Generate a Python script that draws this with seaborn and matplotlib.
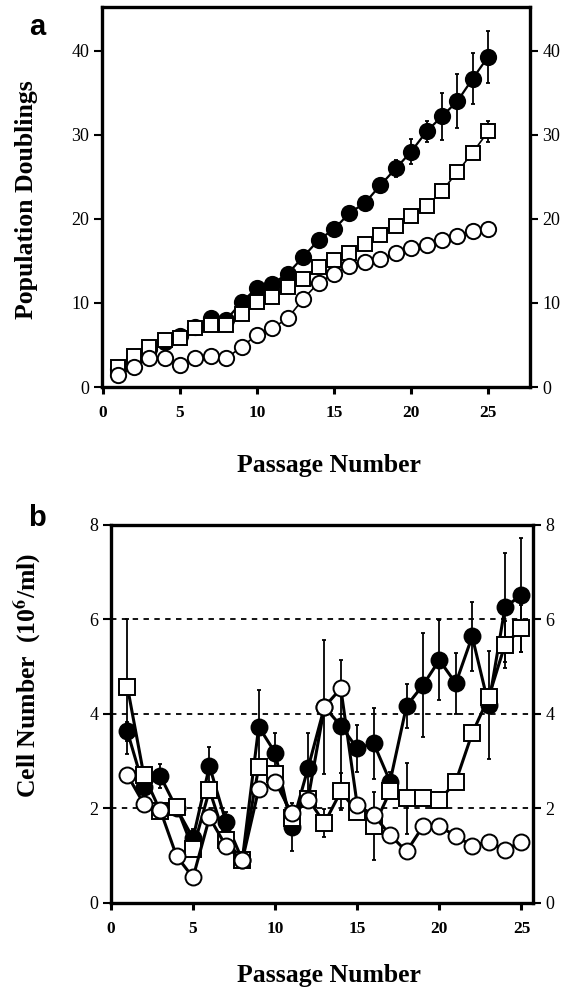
import matplotlib
matplotlib.use("Agg")
import matplotlib.pyplot as plt
import seaborn as sns
import numpy as np

passage = list(range(1, 26))

# panel a: population doublings
pd_filled = [2.1, 3.3, 4.5, 5.3, 6.1, 7.1, 8.2, 8.0, 10.1, 11.8, 12.3, 13.5, 15.5, 17.5,
             18.8, 20.7, 21.9, 24.0, 26.0, 28.0, 30.4, 32.2, 34.0, 36.7, 39.3]
pd_filled_err = [0, 0, 0, 0, 0, 0, 0, 0, 0, 0, 0, 0, 0, 0,
                 0, 0.3, 0.3, 0.5, 1.0, 1.5, 1.3, 2.8, 3.2, 3.0, 3.1]
pd_square = [2.4, 3.7, 4.8, 5.6, 5.8, 7.0, 7.4, 7.4, 8.7, 10.1, 10.7, 11.9, 12.8, 14.3,
             15.1, 15.9, 17.0, 18.1, 19.2, 20.3, 21.5, 23.3, 25.6, 27.9, 30.4]
pd_square_err = [0, 0, 0, 0, 0, 0, 0, 0, 0, 0, 0, 0, 0, 0,
                 0, 0, 0, 0, 0, 0.4, 0.4, 0.5, 0.6, 0.8, 1.3]
pd_open = [1.4, 2.4, 3.4, 3.5, 2.6, 3.4, 3.7, 3.4, 4.8, 6.2, 7.0, 8.2, 10.5, 12.4,
           13.5, 14.4, 14.9, 15.2, 15.9, 16.5, 16.9, 17.5, 18.0, 18.6, 18.8]

# panel b: cell number (10^6/ml)
cn_filled = [3.63, 2.45, 2.69, 2.0, 1.37, 2.90, 1.72, 0.91, 3.73, 3.18, 1.61, 2.85, 4.15,
             3.75, 3.27, 3.38, 2.57, 4.17, 4.61, 5.14, 4.65, 5.64, 4.19, 6.26, 6.52]
cn_filled_err = [0.2, 0.1, 0.25, 0.1, 0.2, 0.4, 0.2, 0.1, 0.77, 0.42, 0.5, 0.75, 1.42,
                 1.4, 0.5, 0.75, 0.2, 0.47, 1.1, 0.85, 0.65, 0.73, 1.15, 1.15, 1.2]
cn_square = [4.58, 2.71, 1.95, 2.04, 1.14, 2.39, 1.33, 0.91, 2.88, 2.74, 1.8, 2.21, 1.69,
             2.36, 1.93, 1.62, 2.36, 2.22, 2.23, 2.17, 2.57, 3.59, 4.35, 5.47, 5.81]
cn_square_err = [1.42, 0.1, 0.1, 0.12, 0.1, 0.1, 0.1, 0.05, 0.1, 0.1, 0.1, 0.1, 0.3,
                 0.4, 0.1, 0.72, 0.1, 0.75, 0.1, 0.1, 0.1, 0.1, 0.1, 0.5, 0.5]
cn_open = [2.71, 2.10, 1.97, 0.99, 0.54, 1.81, 1.21, 0.90, 2.41, 2.57, 1.90, 2.19, 4.15,
           4.54, 2.07, 1.86, 1.44, 1.09, 1.62, 1.62, 1.42, 1.21, 1.30, 1.12, 1.30]

sns.set_style("ticks")
plt.rcParams['font.family'] = ['Liberation Serif', 'DejaVu Serif']
plt.rcParams['mathtext.fontset'] = 'stix'
for k in ['text.color', 'axes.labelcolor', 'xtick.color', 'ytick.color', 'axes.edgecolor']:
    plt.rcParams[k] = 'black'

fig = plt.figure(figsize=(5.66, 9.96), dpi=100)
ax_a = fig.add_axes([0.180, 0.6114, 0.756, 0.3815])
ax_b = fig.add_axes([0.196, 0.0934, 0.7456, 0.3795])


def draw(ax, vals, err, marker, face, ms, lw):
    if err is not None:
        ax.errorbar(passage, vals, yerr=err, fmt='none', ecolor='black',
                    elinewidth=1.3, capsize=1.5, capthick=1.3, zorder=2)
    sns.lineplot(x=passage, y=vals, ax=ax, color='black', linewidth=lw,
                 marker=marker, markersize=ms, markerfacecolor=face,
                 markeredgecolor='black', markeredgewidth=1.4, zorder=3)


draw(ax_a, pd_filled, pd_filled_err, 'o', 'black', 11, 1.6)
draw(ax_a, pd_square, pd_square_err, 's', 'white', 10.5, 1.2)
draw(ax_a, pd_open, None, 'o', 'white', 11, 1.2)

for y in [2, 4, 6]:
    ax_b.axhline(y, color='black', linewidth=1.3, linestyle=(0, (3, 3)), zorder=1)
draw(ax_b, cn_filled, cn_filled_err, 'o', 'black', 11.5, 2.2)
draw(ax_b, cn_square, cn_square_err, 's', 'white', 11, 2.2)
draw(ax_b, cn_open, None, 'o', 'white', 11.5, 2.2)

ax_a.set_xlim(-0.07, 27.7)
ax_a.set_ylim(0, 45.2)
ax_a.set_yticks([0, 10, 20, 30, 40])
ax_b.set_xlim(0, 25.7)
ax_b.set_ylim(0, 8)
ax_b.set_yticks([0, 2, 4, 6, 8])

for ax in (ax_a, ax_b):
    ax.set_xticks([0, 5, 10, 15, 20, 25])
    ax.set_xlabel('')
    ax.set_ylabel('')
    for s in ax.spines.values():
        s.set_visible(True)
        s.set_linewidth(2.4)
        s.set_color('black')
    ax.tick_params(axis='y', which='both', direction='out', left=True, right=True,
                   labelleft=True, labelright=True, length=6, width=1.5,
                   labelsize=13, pad=3, colors='black')
    ax.tick_params(axis='x', direction='out', length=5, width=2.2, labelsize=12.5, pad=8,
                   colors='black')
    for lab in ax.get_xticklabels():
        lab.set_fontweight('bold')

fig.text(37 / 566, 1 - 27 / 996, 'a', family='Liberation Sans', fontweight='bold',
         fontsize=21, ha='center', va='center')
fig.text(37 / 566, 1 - 518 / 996, 'b', family='Liberation Sans', fontweight='bold',
         fontsize=21, ha='center', va='center')
fig.text(27 / 566, 1 - 200 / 996, 'Population Doublings', rotation=90, fontweight='bold',
         fontsize=18.5, ha='center', va='center')
fig.text(27 / 566, 1 - 675 / 996, r'Cell Number  (10$^{\mathbf{6}}$/ml)', rotation=90,
         fontweight='bold', fontsize=18.5, ha='center', va='center')
fig.text(329 / 566, 1 - 465 / 996, 'Passage Number', fontweight='bold',
         fontsize=18.5, ha='center', va='center')
fig.text(329 / 566, 1 - 975 / 996, 'Passage Number', fontweight='bold',
         fontsize=18.5, ha='center', va='center')

fig.savefig('out.png', dpi=100)
plt.close()
